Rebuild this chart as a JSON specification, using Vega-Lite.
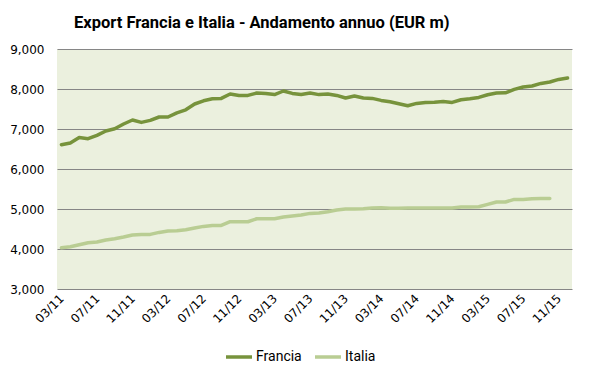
{
  "$schema": "https://vega.github.io/schema/vega-lite/v6.json",
  "width": 515,
  "height": 240,
  "autosize": {"type": "none"},
  "padding": {"left": 57, "top": 49, "right": 22, "bottom": 88},
  "background": "#FFFFFF",
  "title": {
    "text": "Export Francia e Italia - Andamento annuo (EUR m)",
    "anchor": "start",
    "frame": "group",
    "dx": 17,
    "offset": 12,
    "font": "Roboto, sans-serif",
    "fontSize": 16.5,
    "fontWeight": "bold",
    "color": "#000000"
  },
  "config": {
    "view": {"fill": "#EBF0DE", "stroke": null},
    "axis": {"labelColor": "#000000", "labelFont": "DejaVu Sans"}
  },
  "data": {"values": [
    {"m":"03/11","s":"Francia","v":6607},{"m":"04/11","s":"Francia","v":6650},{"m":"05/11","s":"Francia","v":6785},{"m":"06/11","s":"Francia","v":6757},{"m":"07/11","s":"Francia","v":6840},{"m":"08/11","s":"Francia","v":6950},{"m":"09/11","s":"Francia","v":7005},{"m":"10/11","s":"Francia","v":7125},{"m":"11/11","s":"Francia","v":7225},{"m":"12/11","s":"Francia","v":7165},
    {"m":"01/12","s":"Francia","v":7215},{"m":"02/12","s":"Francia","v":7300},{"m":"03/12","s":"Francia","v":7300},{"m":"04/12","s":"Francia","v":7405},{"m":"05/12","s":"Francia","v":7480},{"m":"06/12","s":"Francia","v":7625},{"m":"07/12","s":"Francia","v":7705},{"m":"08/12","s":"Francia","v":7755},{"m":"09/12","s":"Francia","v":7765},{"m":"10/12","s":"Francia","v":7875},{"m":"11/12","s":"Francia","v":7840},{"m":"12/12","s":"Francia","v":7840},
    {"m":"01/13","s":"Francia","v":7900},{"m":"02/13","s":"Francia","v":7890},{"m":"03/13","s":"Francia","v":7860},{"m":"04/13","s":"Francia","v":7950},{"m":"05/13","s":"Francia","v":7890},{"m":"06/13","s":"Francia","v":7865},{"m":"07/13","s":"Francia","v":7900},{"m":"08/13","s":"Francia","v":7860},{"m":"09/13","s":"Francia","v":7875},{"m":"10/13","s":"Francia","v":7840},{"m":"11/13","s":"Francia","v":7775},{"m":"12/13","s":"Francia","v":7825},
    {"m":"01/14","s":"Francia","v":7775},{"m":"02/14","s":"Francia","v":7765},{"m":"03/14","s":"Francia","v":7715},{"m":"04/14","s":"Francia","v":7680},{"m":"05/14","s":"Francia","v":7632},{"m":"06/14","s":"Francia","v":7582},{"m":"07/14","s":"Francia","v":7640},{"m":"08/14","s":"Francia","v":7665},{"m":"09/14","s":"Francia","v":7670},{"m":"10/14","s":"Francia","v":7690},{"m":"11/14","s":"Francia","v":7665},{"m":"12/14","s":"Francia","v":7732},
    {"m":"01/15","s":"Francia","v":7757},{"m":"02/15","s":"Francia","v":7790},{"m":"03/15","s":"Francia","v":7857},{"m":"04/15","s":"Francia","v":7900},{"m":"05/15","s":"Francia","v":7905},{"m":"06/15","s":"Francia","v":7990},{"m":"07/15","s":"Francia","v":8050},{"m":"08/15","s":"Francia","v":8075},{"m":"09/15","s":"Francia","v":8140},{"m":"10/15","s":"Francia","v":8175},{"m":"11/15","s":"Francia","v":8240},{"m":"12/15","s":"Francia","v":8275},
    {"m":"03/11","s":"Italia","v":4032},{"m":"04/11","s":"Italia","v":4057},{"m":"05/11","s":"Italia","v":4107},{"m":"06/11","s":"Italia","v":4157},{"m":"07/11","s":"Italia","v":4175},{"m":"08/11","s":"Italia","v":4225},{"m":"09/11","s":"Italia","v":4257},{"m":"10/11","s":"Italia","v":4300},{"m":"11/11","s":"Italia","v":4350},{"m":"12/11","s":"Italia","v":4365},
    {"m":"01/12","s":"Italia","v":4365},{"m":"02/12","s":"Italia","v":4415},{"m":"03/12","s":"Italia","v":4450},{"m":"04/12","s":"Italia","v":4457},{"m":"05/12","s":"Italia","v":4482},{"m":"06/12","s":"Italia","v":4525},{"m":"07/12","s":"Italia","v":4565},{"m":"08/12","s":"Italia","v":4590},{"m":"09/12","s":"Italia","v":4590},{"m":"10/12","s":"Italia","v":4682},{"m":"11/12","s":"Italia","v":4682},{"m":"12/12","s":"Italia","v":4682},
    {"m":"01/13","s":"Italia","v":4757},{"m":"02/13","s":"Italia","v":4757},{"m":"03/13","s":"Italia","v":4757},{"m":"04/13","s":"Italia","v":4800},{"m":"05/13","s":"Italia","v":4825},{"m":"06/13","s":"Italia","v":4850},{"m":"07/13","s":"Italia","v":4890},{"m":"08/13","s":"Italia","v":4900},{"m":"09/13","s":"Italia","v":4932},{"m":"10/13","s":"Italia","v":4975},{"m":"11/13","s":"Italia","v":5000},{"m":"12/13","s":"Italia","v":5000},
    {"m":"01/14","s":"Italia","v":5008},{"m":"02/14","s":"Italia","v":5025},{"m":"03/14","s":"Italia","v":5033},{"m":"04/14","s":"Italia","v":5017},{"m":"05/14","s":"Italia","v":5017},{"m":"06/14","s":"Italia","v":5025},{"m":"07/14","s":"Italia","v":5025},{"m":"08/14","s":"Italia","v":5025},{"m":"09/14","s":"Italia","v":5025},{"m":"10/14","s":"Italia","v":5025},{"m":"11/14","s":"Italia","v":5025},{"m":"12/14","s":"Italia","v":5050},
    {"m":"01/15","s":"Italia","v":5050},{"m":"02/15","s":"Italia","v":5058},{"m":"03/15","s":"Italia","v":5115},{"m":"04/15","s":"Italia","v":5175},{"m":"05/15","s":"Italia","v":5175},{"m":"06/15","s":"Italia","v":5240},{"m":"07/15","s":"Italia","v":5240},{"m":"08/15","s":"Italia","v":5257},{"m":"09/15","s":"Italia","v":5265},{"m":"10/15","s":"Italia","v":5265}
  ]},
  "mark": {"type": "line", "strokeWidth": 3.5, "strokeJoin": "round", "strokeCap": "round"},
  "encoding": {
    "x": {
      "field": "m", "type": "ordinal", "sort": null,
      "scale": {"type": "point", "padding": 0.5},
      "axis": {
        "title": null,
        "values": ["03/11","07/11","11/11","03/12","07/12","11/12","03/13","07/13","11/13","03/14","07/14","11/14","03/15","07/15","11/15"],
        "labelAngle": -45, "labelAlign": "right", "labelBaseline": "middle",
        "labelFontSize": 12, "labelPadding": 7,
        "ticks": false, "domain": false, "grid": false
      }
    },
    "y": {
      "field": "v", "type": "quantitative",
      "scale": {"domain": [3000, 9000], "nice": false, "zero": false},
      "axis": {
        "title": null,
        "values": [3000,4000,5000,6000,7000,8000,9000],
        "format": ",d",
        "labelFontSize": 12, "labelPadding": 13,
        "ticks": false, "domain": false,
        "grid": true, "gridColor": "#868686", "gridWidth": 1, "gridOpacity": 1
      }
    },
    "color": {
      "field": "s", "type": "nominal",
      "scale": {"domain": ["Francia", "Italia"], "range": ["#77933C", "#B9CD93"]},
      "legend": {
        "title": null, "orient": "none", "direction": "horizontal",
        "legendX": 167, "legendY": 293,
        "symbolType": "stroke", "symbolSize": 676, "symbolStrokeWidth": 3.5,
        "symbolOffset": 0, "labelOffset": 2, "columnPadding": 6,
        "labelFont": "Roboto, sans-serif", "labelFontSize": 14, "labelColor": "#000000"
      }
    }
  }
}
